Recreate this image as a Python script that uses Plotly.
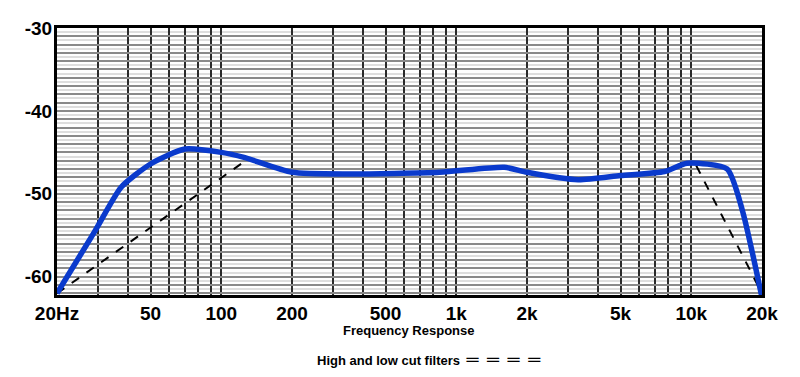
import plotly.graph_objects as go

# Frequency response (Hz, dB)
freq = [20, 29, 37.5, 50, 70, 100, 125, 200, 350, 850, 1600, 2000, 3300, 5000, 7700, 9600, 14200, 16500, 20000]
resp = [-62.0, -54.5, -49.2, -46.4, -44.6, -45.0, -45.6, -47.4, -47.6, -47.4, -46.8, -47.4, -48.3, -47.8, -47.3, -46.3, -47.0, -52.0, -62.5]

# Low cut filter (dashed)
lowcut_f = [20, 130]
lowcut_db = [-62.0, -45.8]
# High cut filter (dashed)
highcut_f = [10500, 20000]
highcut_db = [-46.6, -62.0]

# Axis ticks
x_grid = [20, 30, 40, 50, 60, 70, 80, 90, 100, 200, 300, 400, 500, 600, 700, 800, 900,
          1000, 2000, 3000, 4000, 5000, 6000, 7000, 8000, 9000, 10000, 20000]
x_labels = {20: "20Hz", 50: "50", 100: "100", 200: "200", 500: "500", 1000: "1k",
            2000: "2k", 5000: "5k", 10000: "10k", 20000: "20k"}
y_grid = list(range(-62, -29))
y_labels = {-30: "-30", -40: "-40", -50: "-50", -60: "-60"}
y_minor = [v + 0.5 for v in range(-62, -30)]

# target plot box in the screenshot (page has an 8px body margin)
BODY = 8
X0, X1, Y0, Y1 = 57, 762, 28, 295
W, H = 800 - BODY, 377 - BODY

fig = go.Figure()
fig.add_trace(go.Scatter(x=lowcut_f, y=lowcut_db, mode="lines",
                         line=dict(color="black", width=2, dash="dash"), showlegend=False))
fig.add_trace(go.Scatter(x=highcut_f, y=highcut_db, mode="lines",
                         line=dict(color="black", width=2, dash="dash"), showlegend=False))
fig.add_trace(go.Scatter(x=freq, y=resp, mode="lines",
                         line=dict(color="#0a3acc", width=5.5, shape="spline", smoothing=0.6),
                         showlegend=False))

dashes = "\u2002".join(["═"] * 4)

fig.update_layout(
    width=W, height=H,
    margin=dict(l=X0 - BODY, r=W + BODY - X1, t=Y0 - BODY, b=H + BODY - Y1, autoexpand=False),
    paper_bgcolor="white", plot_bgcolor="white",
    font=dict(family="Liberation Sans, Arial, sans-serif", color="black"),
    xaxis=dict(
        type="log", range=[1.30103, 4.30103], automargin=False,
        tickvals=x_grid,
        ticktext=[x_labels.get(v, "") for v in x_grid],
        tickfont=dict(size=19, family="Liberation Sans, Arial", weight="bold"),
        showgrid=True, gridcolor="#2a2a2a", gridwidth=2,
        showline=True, linecolor="black", linewidth=3, mirror=True,
        ticks="", zeroline=False, ticklabelstandoff=-1,
    ),
    yaxis=dict(
        range=[-62.2, -30], automargin=False,
        tickvals=y_grid,
        ticktext=[y_labels.get(v, "") for v in y_grid],
        tickfont=dict(size=19, family="Liberation Sans, Arial", weight="bold"),
        showgrid=True, gridcolor="#8a8a8a", gridwidth=2,
        minor=dict(tickvals=y_minor, showgrid=True, gridcolor="#dedede", gridwidth=2, ticks=""),
        showline=True, linecolor="black", linewidth=3, mirror=True,
        ticks="", zeroline=False, ticklabelstandoff=-2,
    ),
    annotations=[
        dict(text="<b>Frequency Response</b>", x=409, y=331, xref="paper", yref="paper",
             xanchor="center", yanchor="middle", showarrow=False, font=dict(size=13)),
        dict(text="<b>High and low cut filters\u2002<span style='font-size:17px'>" + dashes + "</span></b>",
             x=429, y=359, xref="paper", yref="paper", xanchor="center", yanchor="middle",
             showarrow=False, font=dict(size=13)),
    ],
)

# convert screenshot pixel positions of the annotations to paper coordinates
for a in fig.layout.annotations:
    px, py = a.x, a.y
    a.x = (px - X0) / (X1 - X0)
    a.y = (Y1 - py) / (Y1 - Y0)

fig.write_html("out.html")
